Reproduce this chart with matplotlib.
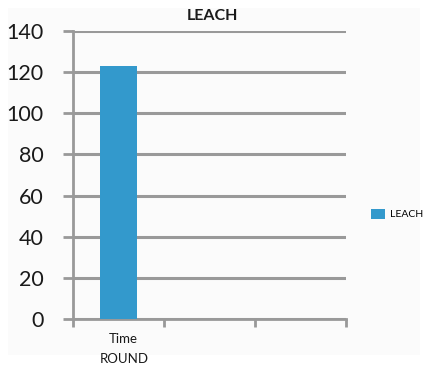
import numpy as np
import matplotlib.pyplot as plt
import matplotlib.transforms as mtransforms
from matplotlib.patches import Rectangle

categories = ["Time", "", ""]
leach = [123, 0, 0]
yticks = [0, 20, 40, 60, 80, 100, 120, 140]

plt.rcParams['font.family'] = ['Lato', 'DejaVu Sans']

fig = plt.figure(figsize=(4.33, 3.65), dpi=100)
fig.patch.set_facecolor('white')
# light chart area behind everything
fig.patches.append(Rectangle((8/433, 1-355/365), 412/433, 347/365, transform=fig.transFigure,
                             facecolor='#fbfbfb', edgecolor='none', zorder=-10))

ax = fig.add_axes([73/433, 1-319/365, 273/433, 288/365])
ax.set_facecolor('none')

x = np.arange(len(categories))
ax.bar(x[:1], leach[:1], width=0.41, color='#3399cc', label='LEACH', zorder=3)

ax.set_xlim(-0.5, len(categories) - 0.5)
ax.set_ylim(0, 140)
ax.set_yticks(yticks)
ax.tick_params(axis='y', length=7, width=2, color='#999999', labelsize=15.5, pad=14, labelcolor='#1a1a1a')
ax.yaxis.grid(True, color='#999999', linewidth=2.2, zorder=0)

ax.set_xticks(np.arange(len(categories) + 1) - 0.5, minor=False)
ax.set_xticklabels([])
ax.tick_params(axis='x', length=6, width=2, color='#999999')
ax.set_xticks(x, minor=True)
ax.set_xticklabels(categories, minor=True, fontsize=9.5, color='#1a1a1a')
ax.tick_params(axis='x', which='minor', length=0, pad=10)
shift = mtransforms.ScaledTranslation(5/100, 0, fig.dpi_scale_trans)
for lbl in ax.get_xticklabels(minor=True):
    lbl.set_transform(lbl.get_transform() + shift)
ax.set_xlabel('ROUND', fontsize=9.5, color='#1a1a1a')
ax.xaxis.set_label_coords((124 - 73) / 273, -0.117)

for s in ['top', 'right']:
    ax.spines[s].set_visible(False)
ax.spines['left'].set_color('#999999')
ax.spines['left'].set_linewidth(2)
ax.spines['bottom'].set_color('#999999')
ax.spines['bottom'].set_linewidth(2)

fig.text(212/433, 1-16/365, 'LEACH', ha='center', va='center', fontsize=11.5, fontweight='bold', color='#1a1a1a')

fig.legend(loc='center left', bbox_to_anchor=(362/433, 1-214/365), frameon=False,
           fontsize=7.5, handlelength=1.3, handleheight=1.1, handletextpad=0.5)

fig.savefig('out.png', dpi=100)
